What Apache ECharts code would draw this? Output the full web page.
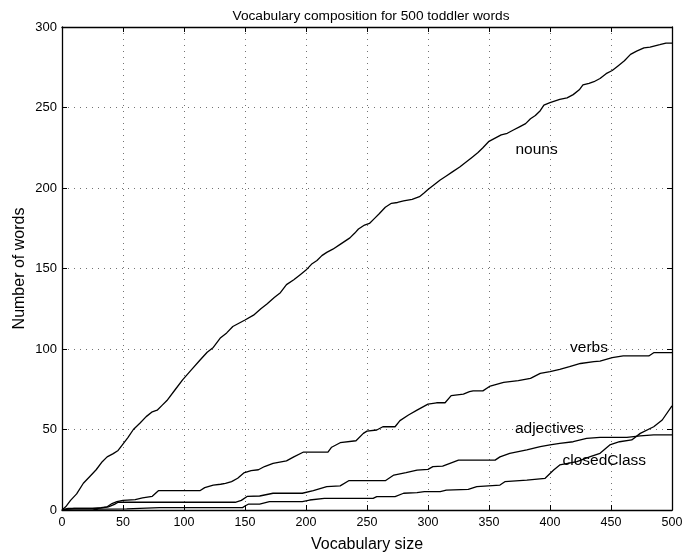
<!DOCTYPE html>
<html>
<head>
<meta charset="utf-8">
<script src="https://cdn.jsdelivr.net/npm/echarts@6/dist/echarts.min.js"></script>
<style>
html,body{margin:0;padding:0;background:#fff;}
#chart{width:684px;height:552px;}
</style>
</head>
<body>
<div id="chart"></div>
<script>
const titleText = 'Vocabulary composition for 500 toddler words';
const xName = 'Vocabulary size';
const yName = 'Number of words';

const nouns = [[0,0],[3,2],[7,6],[12,10],[17.5,16.6],[23,21],[28,25],[33,30],[37,33],[42,35],[46,37],[49,40],[54,45],[58.5,50],[64,54],[69,58],[74,61],[78,62],[82,65],[86,68],[93,75],[99,81],[106,87],[113,93],[119,98],[124,101],[130,107],[135,110],[140,114],[145,116],[150,118],[157,121],[163,125],[168,128],[174,132],[179,135],[184,140],[190,143],[195,146],[200,149],[205,153],[209,155],[213,158],[217,160],[222,162],[228,165],[232,167],[236,169],[240,172],[243,174.5],[248,177],[252,178],[256,181],[260,184],[265,188],[270,190.5],[275,191],[280,192],[287,193],[293,194.6],[297,197],[300,199],[305,202],[310,205],[315,207.5],[320,210],[326,213],[331,216],[336,219],[341,222],[345,225],[350,229],[355,231],[360,233],[365,234],[370,236],[375,238],[380,240],[384,243],[388,245],[392,248],[395,251.5],[400,253],[408,255],[414,256],[419,258],[424,261],[427,264],[432,265],[436,266],[441,268],[446,271],[451,273],[456,276],[461,279],[466,283],[471,285],[477,287],[482,287.5],[490,289],[495,290],[500,290]];

const verbs = [[0,0],[5,1],[15,1],[25,1],[32,1.5],[37,2],[41,4],[45,5.2],[50,6],[60,6.5],[66,7.5],[74,8.5],[79,12],[113,12],[117,13.9],[124,15.5],[130,16],[134,16.5],[139,17.6],[144,19.7],[149,23],[155,24.5],[161,25],[166,27],[173,29],[184,30.5],[190,33],[198,36],[218,36],[221,39],[228,41.8],[241,43],[247,47.6],[250,49],[258,49.7],[263,51.7],[273,51.7],[277,55.5],[284,59],[291,62],[300,65.8],[307,66.6],[314,66.6],[319,71],[329,72],[334,73.5],[337,74],[345,74],[351,77],[362,79.3],[374,80.3],[384,81.8],[392,84.9],[400,85.9],[408,87.4],[416,89],[425,91],[436,92.1],[441,92.5],[451,94.6],[460,95.7],[481,95.7],[485,97.7],[500,97.7]];

const adjectives = [[0,0],[5,0.5],[10,1],[30,1],[38,2],[43,3.5],[46,4.8],[142,4.8],[147,6],[152,8.5],[162,8.7],[173,10.4],[197,10.4],[206,12],[217,14.5],[228,15],[235,18.2],[265,18.2],[272,21.7],[282,23.2],[291,24.8],[300,25.2],[304,26.9],[312,27.3],[318,29],[325,31],[355,31],[359,33],[367,35.2],[381,37.3],[392,39.3],[400,40.4],[408,41.4],[419,42.4],[430,44.5],[441,45.1],[463,45.1],[474,46],[485,46.6],[500,46.6]];

const closedClass = [[0,0],[25,0],[30,0.5],[53,0.7],[80,1.5],[148,1.5],[150,2.5],[153,3.7],[162,3.7],[170,5.2],[197,5.2],[203,6.2],[215,7.2],[255,7.2],[258,8.3],[273,8.3],[280,10.4],[291,10.8],[297,11.4],[310,11.4],[315,12.4],[333,12.8],[340,14.5],[359,15.5],[363,17.6],[381,18.6],[396,19.7],[403,24.8],[408,28],[422,30],[433,33.1],[441,35.2],[449,40.4],[457,42.4],[467,43.5],[474,47.6],[485,51.7],[492,55.9],[500,64.6]];

const seriesNames = ['nouns','verbs','adjectives','closedClass'];
const labelPos = [[389,223.5],[432,101],[399.5,50.5],[444.5,30.5]];

const chart = echarts.init(document.getElementById('chart'));
const FONT = 'Liberation Sans';
const dataSets = [nouns, verbs, adjectives, closedClass];

const series = dataSets.map((d, i) => ({
  name: seriesNames[i],
  type: 'line',
  data: d,
  xAxisIndex: 0,
  yAxisIndex: 0,
  showSymbol: false,
  symbol: 'none',
  animation: false,
  lineStyle: {color: '#000', width: 1.3},
  markPoint: {
    symbol: 'circle',
    symbolSize: 0,
    animation: false,
    label: {show: true, position: 'inside', color: '#000', fontFamily: FONT, fontSize: 15.5, formatter: seriesNames[i]},
    data: [{coord: labelPos[i], value: seriesNames[i]}]
  }
}));

const gridLine = {show: true, lineStyle: {color: '#000', width: 1, type: [1, 5], opacity: 0.55}};
const tickIn = {show: true, inside: true, length: 5, lineStyle: {color: '#000'}};

chart.setOption({
  animation: false,
  backgroundColor: '#fff',
  title: {
    text: titleText, left: 366, top: 4, textAlign: 'center',
    textStyle: {fontFamily: FONT, fontSize: 13.7, fontWeight: 'normal', color: '#000'}
  },
  grid: {left: 62, right: 12, top: 27, bottom: 42, containLabel: false, outerBoundsMode: 'none'},
  xAxis: [{
    type: 'value', min: 0, max: 500, interval: 50, position: 'bottom',
    name: xName, nameLocation: 'middle', nameGap: 27, nameMoveOverlap: false,
    nameTextStyle: {fontFamily: FONT, fontSize: 16, color: '#000'},
    axisLine: {show: true, onZero: false, lineStyle: {color: '#000', width: 1.3}},
    axisTick: tickIn,
    axisLabel: {color: '#000', fontFamily: FONT, fontSize: 12.5, margin: 6},
    splitLine: gridLine
  }, {
    type: 'value', min: 0, max: 500, interval: 50, position: 'top',
    axisLine: {show: true, onZero: false, lineStyle: {color: '#000', width: 1.3}},
    axisTick: tickIn, axisLabel: {show: false}, splitLine: {show: false}
  }],
  yAxis: [{
    type: 'value', min: 0, max: 300, interval: 50, position: 'left',
    name: yName, nameLocation: 'middle', nameGap: 34, nameRotate: 90, nameMoveOverlap: false,
    nameTextStyle: {fontFamily: FONT, fontSize: 16, color: '#000'},
    axisLine: {show: true, onZero: false, lineStyle: {color: '#000', width: 1.3}},
    axisTick: tickIn,
    axisLabel: {color: '#000', fontFamily: FONT, fontSize: 13, margin: 5},
    splitLine: gridLine
  }, {
    type: 'value', min: 0, max: 300, interval: 50, position: 'right',
    axisLine: {show: true, onZero: false, lineStyle: {color: '#000', width: 1.3}},
    axisTick: tickIn, axisLabel: {show: false}, splitLine: {show: false}
  }],
  series: series
});
</script>
</body>
</html>
